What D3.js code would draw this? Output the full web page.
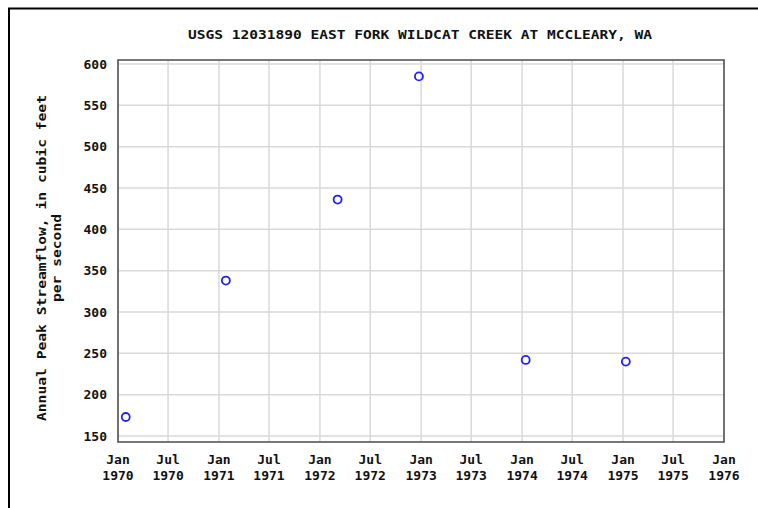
<!DOCTYPE html>
<html>
<head>
<meta charset="utf-8">
<script src="https://cdn.jsdelivr.net/npm/d3@7"></script>
<style>
  html, body { margin: 0; padding: 0; background: #fff; }
  svg { display: block; }
  text { font-family: "DejaVu Sans Mono", "Liberation Mono", monospace; font-weight: bold; fill: #111; }
</style>
</head>
<body>
<script>
// Annual peak streamflow observations
const peakDates = ["1970-01-29", "1971-01-26", "1972-03-05", "1972-12-24", "1974-01-14", "1975-01-11"];
const peakFlows = [173, 338, 436, 585, 242, 240];

// Axis ticks
const yTicks = [150, 200, 250, 300, 350, 400, 450, 500, 550, 600];
const xTickDates = ["1970-01-01", "1970-07-01", "1971-01-01", "1971-07-01", "1972-01-01", "1972-07-01",
                    "1973-01-01", "1973-07-01", "1974-01-01", "1974-07-01", "1975-01-01", "1975-07-01", "1976-01-01"];
const xTickMonths = ["Jan", "Jul", "Jan", "Jul", "Jan", "Jul", "Jan", "Jul", "Jan", "Jul", "Jan", "Jul", "Jan"];
const xTickYears = ["1970", "1970", "1971", "1971", "1972", "1972", "1973", "1973", "1974", "1974", "1975", "1975", "1976"];

const titleText = "USGS 12031890 EAST FORK WILDCAT CREEK AT MCCLEARY, WA";
const yTitleLines = ["Annual Peak Streamflow, in cubic feet", "per second"];

const W = 758, H = 508;
const plot = { left: 118, right: 724, top: 60, bottom: 442 };

const parse = d3.utcParse("%Y-%m-%d");

const svg = d3.select("body").append("svg").attr("width", W).attr("height", H);

// outer frame
svg.append("path")
  .attr("d", `M9,${H + 5} V8.5 H${W + 5}`)
  .attr("fill", "none").attr("stroke", "#000").attr("stroke-width", 2);

const x = d3.scaleUtc()
  .domain([parse("1970-01-01"), parse("1976-01-01")])
  .range([plot.left, plot.right]);

const y = d3.scaleLinear()
  .domain([150, 600])
  .range([436, 64]);

// gridlines
const grid = svg.append("g").attr("stroke", "#d9d9d9").attr("stroke-width", 1.5);
grid.selectAll("line.h").data(yTicks).join("line")
  .attr("x1", plot.left).attr("x2", plot.right)
  .attr("y1", d => y(d)).attr("y2", d => y(d));
grid.selectAll("line.v").data(xTickDates).join("line")
  .attr("x1", d => x(parse(d))).attr("x2", d => x(parse(d)))
  .attr("y1", plot.top).attr("y2", plot.bottom);

// plot border
svg.append("rect")
  .attr("x", plot.left).attr("y", plot.top)
  .attr("width", plot.right - plot.left).attr("height", plot.bottom - plot.top)
  .attr("fill", "none").attr("stroke", "#555").attr("stroke-width", 1.6);

// y tick labels
svg.append("g").selectAll("text").data(yTicks).join("text")
  .attr("x", 107).attr("y", d => y(d) + 1)
  .attr("text-anchor", "end").attr("dominant-baseline", "middle")
  .style("font-size", "13px")
  .text(d => d);

// x tick labels (two lines)
const xl = svg.append("g").selectAll("g").data(xTickDates).join("g")
  .attr("transform", d => `translate(${x(parse(d))},0)`);
xl.append("text").attr("y", 464).attr("text-anchor", "middle").style("font-size", "13px")
  .text((d, i) => xTickMonths[i]);
xl.append("text").attr("y", 480).attr("text-anchor", "middle").style("font-size", "13px")
  .text((d, i) => xTickYears[i]);

// title
svg.append("text")
  .attr("x", 420).attr("y", 39).attr("text-anchor", "middle")
  .style("font-size", "13px")
  .attr("textLength", 464).attr("lengthAdjust", "spacingAndGlyphs")
  .text(titleText);

// y axis title
const yt = svg.append("g").attr("transform", "translate(46,258) rotate(-90)");
yt.append("text").attr("x", 0).attr("y", 0).attr("text-anchor", "middle")
  .style("font-size", "13px")
  .attr("textLength", 326).attr("lengthAdjust", "spacingAndGlyphs")
  .text(yTitleLines[0]);
yt.append("text").attr("x", 0).attr("y", 15).attr("text-anchor", "middle")
  .style("font-size", "13px")
  .attr("textLength", 88).attr("lengthAdjust", "spacingAndGlyphs")
  .text(yTitleLines[1]);

// data points
svg.append("g").selectAll("circle").data(peakDates).join("circle")
  .attr("cx", d => x(parse(d)))
  .attr("cy", (d, i) => y(peakFlows[i]))
  .attr("r", 4)
  .attr("fill", "none")
  .attr("stroke", "#2222ee")
  .attr("stroke-width", 1.8);
</script>
</body>
</html>
